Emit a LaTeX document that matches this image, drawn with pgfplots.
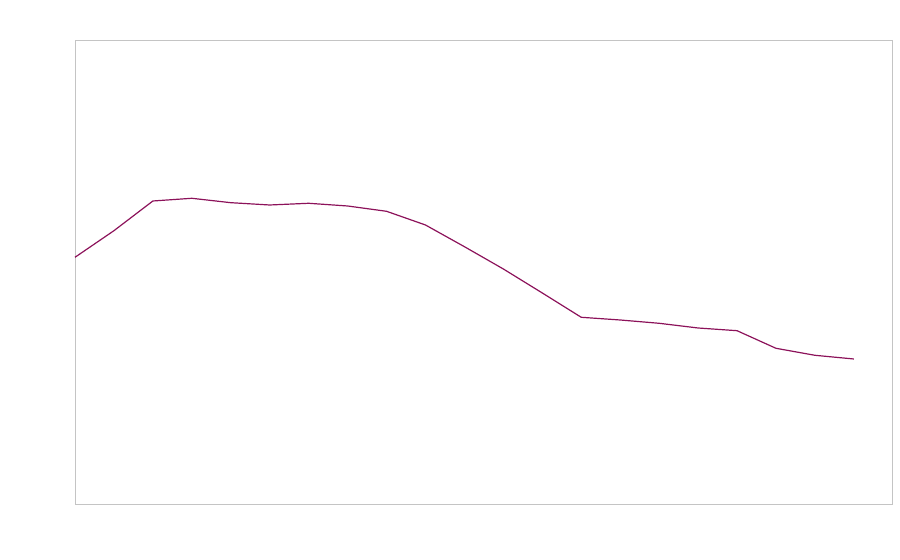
\documentclass[border=0pt]{standalone}
\usepackage{pgfplots}
\pgfplotsset{compat=1.18}
\definecolor{linec}{RGB}{140,18,90}
\definecolor{framec}{RGB}{196,196,196}
\begin{document}
\begin{tikzpicture}
\useasboundingbox (-37.5pt,-28pt) rectangle (412.5pt,252pt);
\begin{axis}[
  at={(0,0)}, anchor=south west,
  scale only axis,
  width=408.5pt, height=232pt,
  xmin=0, xmax=20.98, ymin=0, ymax=464,
  xtick=\empty, ytick=\empty,
  axis line style={framec, line width=0.45pt},
  clip=false,
]
\addplot[linec, line width=0.6pt] coordinates {
(0,246.7) (1,273.3) (2,303) (3,305.7) (4,301.3) (5,299) (6,300.7) (7,298) (8,292.7) (9,279) (10,257.3) (11,235) (12,211) (13,186.7) (14,184) (15,180.7) (16,176) (17,173.3) (18,155.7) (19,148.7) (20,145)
};
\end{axis}
\end{tikzpicture}
\end{document}
